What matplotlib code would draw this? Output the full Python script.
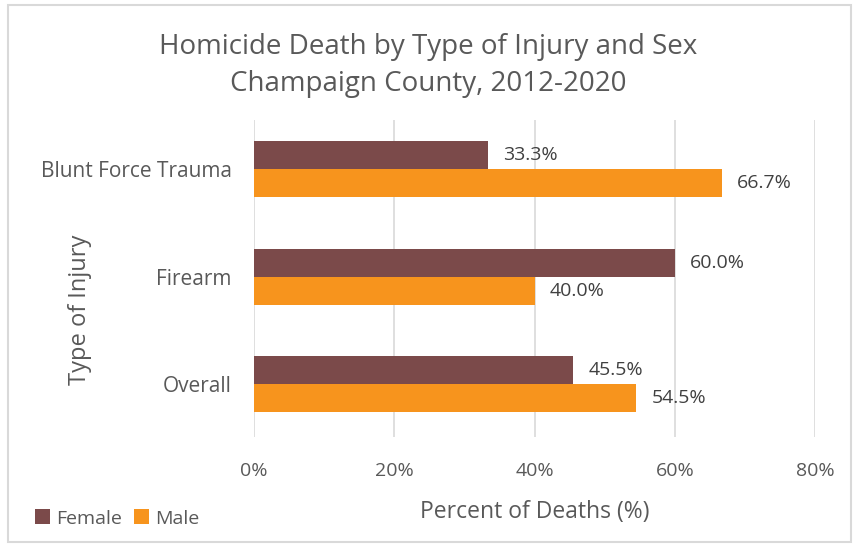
import matplotlib.pyplot as plt
from matplotlib.patches import Rectangle
import numpy as np

plt.rcParams['font.family'] = ['Open Sans', 'DejaVu Sans']

categories = ["Overall", "Firearm", "Blunt Force Trauma"]
female = [45.5, 60.0, 33.3]
male = [54.5, 40.0, 66.7]
xticks = [0, 20, 40, 60, 80]

text_color = "#595959"
female_color = "#7B4A4A"
male_color = "#F7941D"

fig = plt.figure(figsize=(8.56, 5.45), dpi=100)
ax = fig.add_axes([0.2967, 0.198, 0.6555, 0.582])

y = np.arange(len(categories))
h = 0.26
ax.barh(y + h / 2, female, height=h, color=female_color, label="Female", zorder=3)
ax.barh(y - h / 2, male, height=h, color=male_color, label="Male", zorder=3)

for yi, v in zip(y + h / 2, female):
    ax.annotate(f"{v:.1f}%", (v, yi), xytext=(11, 0), textcoords="offset points",
                va="center", ha="left", fontsize=14, color="#404040")
for yi, v in zip(y - h / 2, male):
    ax.annotate(f"{v:.1f}%", (v, yi), xytext=(11, 0), textcoords="offset points",
                va="center", ha="left", fontsize=14, color="#404040")

ax.set_xlim(0, 80)
ax.set_ylim(-0.49, 2.46)
ax.set_xticks(xticks)
ax.set_xticklabels([f"{t}%" for t in xticks])
ax.set_yticks(y)
ax.set_yticklabels(categories)
ax.tick_params(axis="both", length=0, labelsize=14, labelcolor=text_color)
ax.tick_params(axis="y", labelsize=15)
ax.tick_params(axis="x", pad=18)
ax.tick_params(axis="y", pad=16)
ax.grid(axis="x", color="#D9D9D9", linewidth=1.2, zorder=0)
for s in ax.spines.values():
    s.set_visible(False)

ax.set_xlabel("Percent of Deaths (%)", fontsize=16.5, color=text_color, labelpad=14)
fig.text(80 / 856, 1 - 310 / 545, "Type of Injury", rotation=90, ha="center", va="center",
         fontsize=17, color=text_color)

fig.text(0.5, 0.914, "Homicide Death by Type of Injury and Sex", ha="center", va="center",
         fontsize=20, color=text_color)
fig.text(0.5, 0.846, "Champaign County, 2012-2020", ha="center", va="center",
         fontsize=20, color=text_color)

fig.legend(loc="lower left", bbox_to_anchor=(0.02, 0.0), ncol=2, frameon=False,
           fontsize=14, labelcolor=text_color, handlelength=0.8, handleheight=0.8,
           handletextpad=0.3, columnspacing=0.6)

fig.patches.append(Rectangle((0.009, 0.005), 0.985, 0.985, transform=fig.transFigure,
                             fill=False, edgecolor="#D9D9D9", linewidth=1.5))

fig.savefig("out.png", dpi=100)
